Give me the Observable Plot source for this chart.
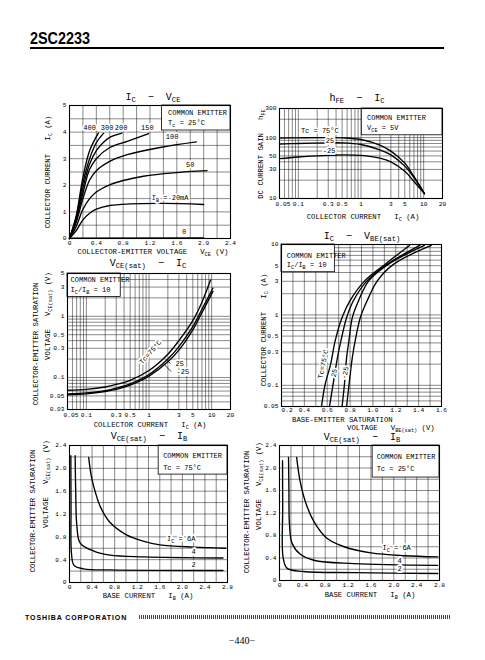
<!DOCTYPE html>
<html>
<head>
<meta charset="utf-8">
<script src="https://cdn.jsdelivr.net/npm/d3@7"></script>
<script src="https://cdn.jsdelivr.net/npm/@observablehq/plot@0.6"></script>
<style>
html,body{margin:0;padding:0;background:#fff;}
#page{position:relative;width:485px;height:660px;overflow:hidden;background:#fff;color:#000;font-family:"Liberation Mono","DejaVu Sans Mono",monospace;}
.t{position:absolute;white-space:nowrap;line-height:1;}
.c{transform:translate(-50%,-50%);}
.r{transform:translate(-50%,-50%) rotate(-90deg);}
.l{transform:translate(0,-50%);}
.ax{font-size:7.3px;}
.ti{font-size:10px;}
sub{font-size:0.72em;vertical-align:-0.3em;line-height:0;}
</style>
</head>
<body>
<div id="page"></div>
<script>
// ================= DATA =================
// Ic – VCE  (Tc = 25°C), one curve per base current IB (mA)
const ivSeries = ["400","300","200","150","100","50","20","0"];
const iv400 = [[0,0],[0.1,0.85],[0.2,2.3],[0.3,3.3],[0.43,3.96]];
const iv300 = [[0,0],[0.1,0.8],[0.2,2.1],[0.3,3.0],[0.4,3.6],[0.51,3.96]];
const iv200 = [[0,0],[0.1,0.75],[0.2,1.9],[0.3,2.8],[0.4,3.3],[0.5,3.6],[0.6,3.8],[0.78,3.96]];
const iv150 = [[0,0],[0.1,0.7],[0.2,1.7],[0.3,2.6],[0.4,3.0],[0.6,3.42],[0.86,3.65],[1.18,3.94]];
const iv100 = [[0,0],[0.1,0.6],[0.2,1.5],[0.3,2.2],[0.4,2.55],[0.6,2.9],[0.86,3.15],[1.35,3.42],[1.89,3.63]];
const iv50  = [[0,0],[0.1,0.45],[0.2,1.1],[0.3,1.5],[0.4,1.75],[0.6,2.02],[0.8,2.18],[1.1,2.34],[1.55,2.47],[2.05,2.55]];
const iv20  = [[0,0],[0.1,0.3],[0.2,0.7],[0.3,0.95],[0.4,1.1],[0.6,1.24],[0.9,1.3],[1.4,1.32],[2.0,1.28]];
const iv0   = [[0,0.01],[2.0,0.02]];
const ivCurves = [iv400, iv300, iv200, iv150, iv100, iv50, iv20, iv0];
const ivXTicks = [0,0.4,0.8,1.2,1.6,2.0,2.4];
const ivXLabels = ["0","0.4","0.8","1.2","1.6","2.0","2.4"];
const ivYTicks = [0,1,2,3,4,5];
const ivYLabels = ["0","1","2","3","4","5"];
const ivBox = [{x1:1.38,x2:2.4,y1:4.06,y2:5}];
const ivBoxText = [{x:1.47,y:4.72,t:"COMMON EMITTER"},{x:1.47,y:4.35,t:"T_{c} = 25°C"}];
const ivNotes = [{x:0.3,y:4.15,t:"400"},{x:0.56,y:4.15,t:"300"},{x:0.77,y:4.15,t:"200"},{x:1.16,y:4.15,t:"150"},
                 {x:1.53,y:3.82,t:"100"},{x:1.8,y:2.78,t:"50"},{x:1.5,y:1.55,t:"I_{B} = 20mA"},{x:1.71,y:0.27,t:"0"}];

// hFE – IC  (VCE = 5V)
const hfeSeries = ["75","25","-25"];
const hfe75  = [[0.05,98],[0.1,99],[0.3,100],[0.5,99],[1,93],[2,75],[3,60],[5,38],[7,23],[10.3,12]];
const hfe25  = [[0.05,78],[0.1,80],[0.3,82],[0.5,82],[1,77],[2,63],[3,52],[5,34],[7,22],[10.3,12]];
const hfeM25 = [[0.05,45],[0.1,48],[0.3,51],[0.5,52],[1,51],[2,46],[3,40],[5,28],[7,19],[10.3,12]];
const hfeCurves = [hfe75, hfe25, hfeM25];
const logIcTicks = [0.05,0.1,0.3,0.5,1,3,5,10,20];
const logIcLabels = ["0.05","0.1","0.3","0.5","1","3","5","10","20"];
const hfeYTicks = [10,30,50,100,300];
const hfeYLabels = ["10","30","50","100","300"];
const hfeBox = [{x1:1.03,x2:20,y1:109,y2:300}];
const hfeBoxText = [{x:1.25,y:215,t:"COMMON EMITTER"},{x:1.25,y:145,t:"V_{CE} = 5V"}];
const hfeNotes = [{x:0.22,y:127,t:"Tc = 75°C"},{x:0.32,y:90,t:"25"},{x:0.31,y:61,t:"-25"}];

// VCE(sat) – IC  (IC/IB = 10)
const vsSeries = ["75","25","-25"];
const vs75  = [[0.05,0.062],[0.1,0.064],[0.2,0.07],[0.3,0.077],[0.5,0.09],[1,0.13],[2,0.24],[3,0.4],[5,0.85],[7,1.7],[9.6,3.9]];
const vs25  = [[0.05,0.054],[0.1,0.056],[0.2,0.061],[0.3,0.067],[0.5,0.079],[1,0.112],[2,0.2],[3,0.32],[5,0.68],[7,1.3],[10.5,2.9]];
const vsM25 = [[0.05,0.052],[0.1,0.054],[0.2,0.059],[0.3,0.064],[0.5,0.075],[1,0.105],[2,0.18],[3,0.28],[5,0.6],[7,1.15],[10.5,2.55]];
const vsCurves = [vs75, vs25, vsM25];
const vsYTicks = [0.03,0.05,0.1,0.3,0.5,1,3,5];
const vsYLabels = ["0.03","0.05","0.1","0.3","0.5","1","3","5"];
const vsBox = [{x1:0.05,x2:0.354,y1:2.07,y2:5}];
const vsBoxText = [{x:0.056,y:3.95,t:"COMMON EMITTER"},{x:0.056,y:2.75,t:"I_{C}/I_{B} = 10"}];
const vsNotes = [{x:2.65,y:0.165,t:"25"},{x:2.75,y:0.122,t:"-25"}];
const vsRotNote = [{x:1.05,y:0.26,t:"Tc=75°C"}];
const vsLeaders = [{x1:2.2,y1:0.17,x2:1.85,y2:0.198},{x1:2.25,y1:0.125,x2:1.75,y2:0.163}];

// IC – VBE(sat)  (IC/IB = 10)
const vbSeries = ["a","b","c","d"];
const vbA = [[0.55,0.05],[0.58,0.1],[0.63,0.2],[0.67,0.43],[0.73,0.92],[0.80,1.6],[0.93,3.07],[1.11,5.3],[1.32,9.7]];
const vbB = [[0.62,0.05],[0.65,0.1],[0.69,0.25],[0.72,0.43],[0.77,0.92],[0.83,1.6],[0.95,3.07],[1.13,5.3],[1.41,9.7]];
const vbC = [[0.73,0.05],[0.75,0.1],[0.77,0.25],[0.79,0.43],[0.82,0.92],[0.875,1.6],[0.965,3.07],[1.14,5.3],[1.45,9.7]];
const vbD = [[0.77,0.05],[0.79,0.1],[0.82,0.25],[0.845,0.43],[0.89,0.92],[0.95,1.6],[1.04,3.07],[1.185,5.3],[1.51,9.7]];
const vbCurves = [vbA, vbB, vbC, vbD];
const vbXTicks = [0.2,0.4,0.6,0.8,1.0,1.2,1.4,1.6];
const vbXLabels = ["0.2","0.4","0.6","0.8","1.0","1.2","1.4","1.6"];
const vbYTicks = [0.05,0.1,0.3,0.5,1,3,5,10];
const vbYLabels = ["0.05","0.1","0.3","0.5","1","3","5","10"];
const vbBox = [{x1:0.2,x2:0.667,y1:4.04,y2:10}];
const vbBoxText = [{x:0.247,y:7.0,t:"COMMON EMITTER"},{x:0.247,y:5.1,t:"I_{C}/I_{B} = 10"}];
const vbNotes = [{x:0.565,y:0.2,t:"Tc=75°C"},{x:0.66,y:0.15,t:"25"},{x:0.757,y:0.15,t:"-25"}];

// VCE(sat) – IB  (Tc = 75°C), one curve per IC
const ib75Series = ["6A","4A","2A"];
const ib75_6 = [[0.34,2.19],[0.38,1.9],[0.43,1.68],[0.55,1.32],[0.72,1.05],[1.0,0.84],[1.32,0.72],[1.6,0.66],[2.2,0.62],[2.77,0.6]];
const ib75_4 = [[0.1,2.22],[0.11,1.59],[0.13,1.0],[0.19,0.69],[0.43,0.55],[0.72,0.48],[1.32,0.45],[2.72,0.43]];
const ib75_2 = [[0.024,2.22],[0.027,1.3],[0.035,0.51],[0.08,0.3],[0.25,0.24],[0.72,0.22],[2.72,0.21]];
const ib75Curves = [ib75_6, ib75_4, ib75_2];
const ibXTicks = [0,0.4,0.8,1.2,1.6,2.0,2.4,2.8];
const ibXLabels = ["0","0.4","0.8","1.2","1.6","2.0","2.4","2.8"];
const ibYTicks = [0,0.4,0.8,1.2,1.6,2.0,2.4];
const ibYLabels = ["0","0.4","0.8","1.2","1.6","2.0","2.4"];
const ib75Box = [{x1:1.58,x2:2.8,y1:1.89,y2:2.4}];
const ib75BoxText = [{x:1.66,y:2.22,t:"COMMON EMITTER"},{x:1.66,y:2.01,t:"Tc = 75°C"}];
const ib75Notes = [{x:1.98,y:0.76,t:"I_{C} = 6A"},{x:2.2,y:0.53,t:"4"},{x:2.2,y:0.315,t:"2"}];

// VCE(sat) – IB  (Tc = 25°C)
const ib25Series = ["6A","4A","2A"];
const ib25_6 = [[0.3,2.19],[0.36,1.77],[0.45,1.41],[0.6,1.05],[0.83,0.75],[1.13,0.6],[1.6,0.49],[2.18,0.44],[2.77,0.42]];
const ib25_4 = [[0.158,2.19],[0.165,1.59],[0.175,0.99],[0.22,0.66],[0.36,0.47],[0.6,0.36],[1.3,0.3],[2.77,0.27]];
const ib25_2 = [[0.053,2.13],[0.056,1.29],[0.062,0.42],[0.13,0.22],[0.42,0.16],[1.3,0.14],[2.77,0.125]];
const ib25Curves = [ib25_6, ib25_4, ib25_2];
const ib25Box = [{x1:1.63,x2:2.8,y1:1.83,y2:2.4}];
const ib25BoxText = [{x:1.7,y:2.2,t:"COMMON EMITTER"},{x:1.7,y:1.98,t:"Tc = 25°C"}];
const ib25Notes = [{x:2.05,y:0.58,t:"I_{C} = 6A"},{x:2.1,y:0.36,t:"4"},{x:2.1,y:0.21,t:"2"}];

// ================= RENDER =================
const page = document.getElementById("page");
const MONO = '"Liberation Mono","DejaVu Sans Mono",monospace';

function html(content, x, y, cls, extra) {
  const d = document.createElement("div");
  d.className = "t " + cls;
  d.innerHTML = content;
  d.style.left = x + "px";
  d.style.top = y + "px";
  if (extra) Object.assign(d.style, extra);
  page.appendChild(d);
  return d;
}

function rowsOf(series, curves) {
  return series.flatMap((s, i) => curves[i].map(([x, y]) => ({s, x, y})));
}

function subify(root) {
  const NS = "http://www.w3.org/2000/svg";
  root.querySelectorAll("text").forEach(t => {
    const s = t.textContent;
    if (!s.includes("_{")) return;
    while (t.firstChild) t.removeChild(t.firstChild);
    const parts = s.split(/(_\{[^}]*\})/);
    let shifted = false;
    for (const p of parts) {
      if (!p) continue;
      const sp = document.createElementNS(NS, "tspan");
      if (p.startsWith("_{")) {
        sp.textContent = p.slice(2, -1);
        sp.setAttribute("font-size", "5.2");
        if (!shifted) { sp.setAttribute("dy", "2"); shifted = true; }
      } else {
        sp.textContent = p;
        if (shifted) { sp.setAttribute("dy", "-2"); shifted = false; }
      }
      t.appendChild(sp);
    }
  });
}

const M = {l: 26, r: 12, t: 6, b: 16};
const TICK_FS = 6.2;
const gridStyle = {stroke: "#000", strokeWidth: 0.55, strokeOpacity: 0.85};
const curveStyle = {x: "x", y: "y", z: "s", stroke: "#000", strokeWidth: 1.35, curve: "catmull-rom"};
const boxStyle = {x1: "x1", x2: "x2", y1: "y1", y2: "y2", fill: "#fff", stroke: "#000", strokeWidth: 0.8};
const noteStyle = {x: "x", y: "y", text: "t", fontSize: 7, fill: "#000", stroke: "#fff", strokeWidth: 3.5};
const boxTextStyle = {x: "x", y: "y", text: "t", fontSize: 7, fill: "#000", textAnchor: "start"};

function tickRows(ticks, labels) { return ticks.map((v, i) => ({v, t: labels[i]})); }

function chart(cfg) {
  const [x0, y0, x1, y1] = cfg.frame;
  const xRows = tickRows(cfg.x.ticks, cfg.x.labels);
  const firstStart = cfg.x.firstDx !== undefined;
  const xMain = firstStart ? xRows.slice(1) : xRows;
  const xFirst = firstStart ? xRows.slice(0, 1) : [];
  const fig = Plot.plot({
    width: x1 - x0 + M.l + M.r,
    height: y1 - y0 + M.t + M.b,
    marginLeft: M.l, marginRight: M.r, marginTop: M.t, marginBottom: M.b,
    style: {fontFamily: MONO, fontSize: "7px", background: "transparent", overflow: "visible", color: "#000"},
    x: {type: cfg.x.type, domain: cfg.x.domain, axis: null},
    y: {type: cfg.y.type, domain: cfg.y.domain, axis: null},
    marks: [
      Plot.ruleX(cfg.x.grid, gridStyle),
      Plot.ruleY(cfg.y.grid, gridStyle),
      ...cfg.marks,
      Plot.frame({stroke: "#000", strokeWidth: 1.1}),
      Plot.text(xMain, {x: "v", text: "t", frameAnchor: "bottom", dy: cfg.x.dy ?? 6.5, fontSize: TICK_FS, fill: "#000"}),
      Plot.text(xFirst, {x: "v", text: "t", frameAnchor: "bottom", dy: cfg.x.dy ?? 6.5, dx: cfg.x.firstDx ?? 0, textAnchor: "start", fontSize: TICK_FS, fill: "#000"}),
      Plot.text(tickRows(cfg.y.ticks, cfg.y.labels), {y: "v", text: "t", frameAnchor: "left", dx: -3, textAnchor: "end", fontSize: TICK_FS, fill: "#000"})
    ]
  });
  fig.style.position = "absolute";
  fig.style.left = (x0 - M.l) + "px";
  fig.style.top = (y0 - M.t) + "px";
  subify(fig);
  page.appendChild(fig);
  return fig;
}

const logTicks = (a, b) => d3.scaleLog().domain([a, b]).ticks();

// Chart 1: Ic – VCE
chart({
  frame: [69, 105, 230, 238],
  x: {type: "linear", domain: [0, 2.4], grid: d3.ticks(0, 2.4, 12), ticks: ivXTicks, labels: ivXLabels, dy: 6},
  y: {type: "linear", domain: [0, 5], grid: d3.ticks(0, 5, 10), ticks: ivYTicks, labels: ivYLabels},
  marks: [
    Plot.rect(ivBox, boxStyle),
    Plot.text(ivBoxText, boxTextStyle),
    Plot.line(rowsOf(ivSeries, ivCurves), curveStyle),
    Plot.text(ivNotes, noteStyle)
  ]
});

// Chart 2: hFE – IC
chart({
  frame: [279, 108, 442, 198],
  x: {type: "log", domain: [0.05, 20], grid: logTicks(0.05, 20), ticks: logIcTicks, labels: logIcLabels, firstDx: -4, dy: 7.5},
  y: {type: "log", domain: [10, 300], grid: logTicks(10, 300), ticks: hfeYTicks, labels: hfeYLabels},
  marks: [
    Plot.rect(hfeBox, boxStyle),
    Plot.text(hfeBoxText, boxTextStyle),
    Plot.line(rowsOf(hfeSeries, hfeCurves), curveStyle),
    Plot.text(hfeNotes, noteStyle)
  ]
});

// Chart 3: VCE(sat) – IC
chart({
  frame: [67, 273, 230, 409],
  x: {type: "log", domain: [0.05, 20], grid: logTicks(0.05, 20), ticks: logIcTicks, labels: logIcLabels, firstDx: -4, dy: 7},
  y: {type: "log", domain: [0.03, 5], grid: logTicks(0.03, 5), ticks: vsYTicks, labels: vsYLabels},
  marks: [
    Plot.rect(vsBox, boxStyle),
    Plot.text(vsBoxText, boxTextStyle),
    Plot.line(rowsOf(vsSeries, vsCurves), curveStyle),
    Plot.link(vsLeaders, {x1: "x1", y1: "y1", x2: "x2", y2: "y2", stroke: "#000", strokeWidth: 0.8}),
    Plot.text(vsNotes, {...noteStyle, textAnchor: "start"}),
    Plot.text(vsRotNote, {...noteStyle, rotate: -48})
  ]
});

// Chart 4: IC – VBE(sat)
chart({
  frame: [281, 244, 441, 406],
  x: {type: "linear", domain: [0.2, 1.6], grid: d3.ticks(0.2, 1.6, 14), ticks: vbXTicks, labels: vbXLabels, firstDx: 0, dy: 5.5},
  y: {type: "log", domain: [0.05, 10], grid: logTicks(0.05, 10), ticks: vbYTicks, labels: vbYLabels},
  marks: [
    Plot.rect(vbBox, boxStyle),
    Plot.text(vbBoxText, boxTextStyle),
    Plot.line(rowsOf(vbSeries, vbCurves), curveStyle),
    Plot.text(vbNotes, {...noteStyle, rotate: -78})
  ]
});

// Chart 5: VCE(sat) – IB, Tc = 75°C
chart({
  frame: [69, 445, 227, 582],
  x: {type: "linear", domain: [0, 2.8], grid: d3.ticks(0, 2.8, 14), ticks: ibXTicks, labels: ibXLabels},
  y: {type: "linear", domain: [0, 2.4], grid: d3.ticks(0, 2.4, 12), ticks: ibYTicks, labels: ibYLabels},
  marks: [
    Plot.rect(ib75Box, boxStyle),
    Plot.text(ib75BoxText, boxTextStyle),
    Plot.line(rowsOf(ib75Series, ib75Curves), curveStyle),
    Plot.text(ib75Notes, noteStyle)
  ]
});

// Chart 6: VCE(sat) – IB, Tc = 25°C
chart({
  frame: [279, 445, 439, 580],
  x: {type: "linear", domain: [0, 2.8], grid: d3.ticks(0, 2.8, 14), ticks: ibXTicks, labels: ibXLabels},
  y: {type: "linear", domain: [0, 2.4], grid: d3.ticks(0, 2.4, 12), ticks: ibYTicks, labels: ibYLabels},
  marks: [
    Plot.rect(ib25Box, boxStyle),
    Plot.text(ib25BoxText, boxTextStyle),
    Plot.line(rowsOf(ib25Series, ib25Curves), curveStyle),
    Plot.text(ib25Notes, noteStyle)
  ]
});

// ---- titles ----
html("I<sub>C</sub>&nbsp; −&nbsp; V<sub>CE</sub>", 153, 98, "c ti");
html("h<sub>FE</sub>&nbsp; −&nbsp; I<sub>C</sub>", 357, 99, "c ti");
html("V<sub>CE(sat)</sub>&nbsp; −&nbsp; I<sub>C</sub>", 148, 264, "c ti");
html("I<sub>C</sub>&nbsp; −&nbsp; V<sub>BE(sat)</sub>", 362, 237, "c ti");
html("V<sub>CE(sat)</sub>&nbsp; −&nbsp; I<sub>B</sub>", 149, 437, "c ti");
html("V<sub>CE(sat)</sub>&nbsp; −&nbsp; I<sub>B</sub>", 362, 438, "c ti");

// ---- axis labels ----
html("COLLECTOR CURRENT&nbsp;&nbsp; I<sub>C</sub> (A)", 49, 172, "r ax");
html("COLLECTOR-EMITTER VOLTAGE&nbsp;&nbsp; V<sub>CE</sub> (V)", 153, 253, "c ax");
html("DC CURRENT GAIN&nbsp;&nbsp; h<sub>FE</sub>", 262, 154, "r ax");
html("COLLECTOR CURRENT&nbsp;&nbsp; I<sub>C</sub> (A)", 363, 218, "c ax");
html("COLLECTOR-EMITTER SATURATION", 37, 344, "r ax");
html("VOLTAGE&nbsp;&nbsp; V<sub>CE(sat)</sub> (V)", 49, 316, "r ax");
html("COLLECTOR CURRENT&nbsp;&nbsp; I<sub>C</sub> (A)", 150, 426, "c ax");
html("COLLECTOR CURRENT&nbsp;&nbsp; I<sub>C</sub> (A)", 265, 330, "r ax");
html("BASE-EMITTER SATURATION", 292, 421, "l ax");
html("VOLTAGE&nbsp;&nbsp; V<sub>BE(sat)</sub> (V)", 347, 429, "l ax");
html("COLLECTOR-EMITTER SATURATION", 34, 511, "r ax");
html("VOLTAGE&nbsp;&nbsp; V<sub>CE(sat)</sub> (V)", 47, 484, "r ax");
html("BASE CURRENT&nbsp;&nbsp; I<sub>B</sub> (A)", 148, 597, "c ax");
html("COLLECTOR-EMITTER SATURATION", 248, 512, "r ax");
html("VOLTAGE&nbsp;&nbsp; V<sub>CE(sat)</sub> (V)", 260, 486, "r ax");
html("BASE CURRENT&nbsp;&nbsp; I<sub>B</sub> (A)", 370, 596, "c ax");

// ---- header / footer ----
html("2SC2233", 30, 31, "", {fontFamily: '"Liberation Sans",Arial,sans-serif', fontWeight: "bold", fontSize: "16px", transform: "scaleX(0.9)", transformOrigin: "left top"});
const rule = document.createElement("div");
Object.assign(rule.style, {position: "absolute", left: "30px", top: "47px", width: "414px", height: "2px", background: "#000"});
page.appendChild(rule);
html("TOSHIBA CORPORATION", 25, 617, "l", {fontFamily: '"Liberation Sans",Arial,sans-serif', fontWeight: "bold", fontSize: "7px", letterSpacing: "0.9px"});
const bar = document.createElement("div");
Object.assign(bar.style, {position: "absolute", left: "139px", top: "615px", width: "311px", height: "4px",
  background: "repeating-linear-gradient(90deg,#444 0 1px,#fff 1px 2px)"});
page.appendChild(bar);
html("−440−", 242, 641, "c", {fontFamily: '"Liberation Serif",serif', fontSize: "10px"});
</script>
</body>
</html>
